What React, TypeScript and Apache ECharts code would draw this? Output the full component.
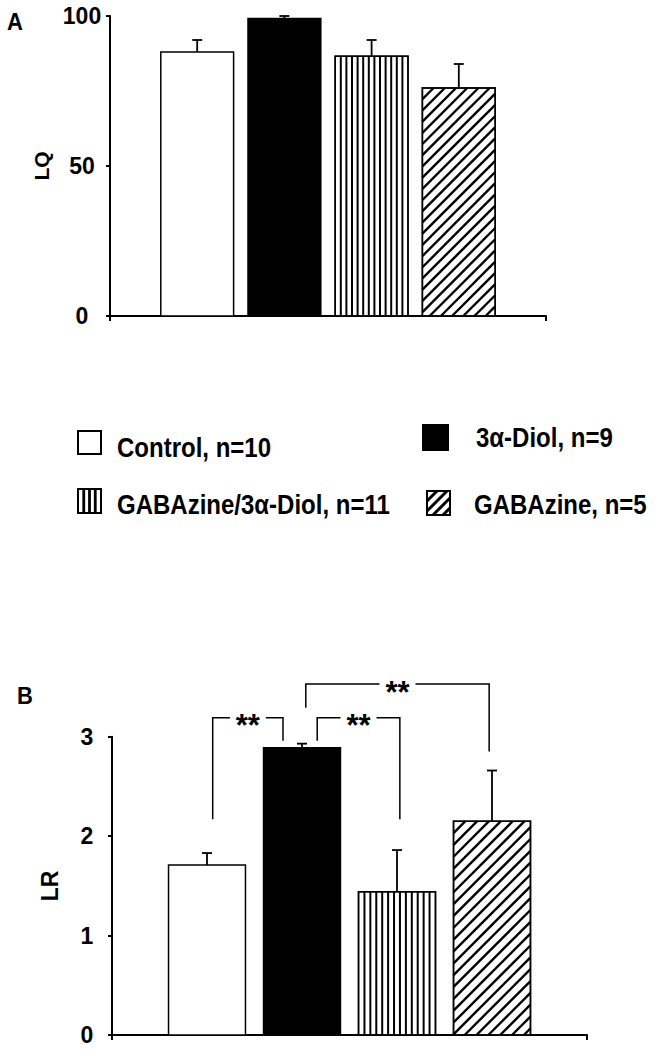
import React, { useEffect, useRef } from "react";
import * as echarts from "echarts";

// ---- data ----
const groups = ["Control, n=10", "3α-Diol, n=9", "GABAzine/3α-Diol, n=11", "GABAzine, n=5"];
const groupPositions = [1, 2, 3, 4];
const patterns = ["white", "black", "vertical", "diagonal"];
const lqMean = [88, 99.2, 86.6, 76];
const lqSem = [4, 0.8, 5.4, 8];
const lrMean = [1.71, 2.89, 1.44, 2.15];
const lrSem = [0.12, 0.04, 0.42, 0.51];
const lqAxis = { min: 0, max: 100, interval: 50 };
const lrAxis = { min: 0, max: 3, interval: 1 };
const bracketX1 = [1.06, 2.16, 2.04];
const bracketY1 = [2.17, 2.96, 3.29];
const bracketX2 = [1.8, 3.03, 3.97];
const bracketY2 = [2.96, 2.17, 2.85];
const bracketTop = [3.19, 3.19, 3.53];
const bracketLabels = ["**", "**", "**"];

const FONT = '"Liberation Sans", Arial, Helvetica, sans-serif';

function diagonalSegments(x0: number, y0: number, x1: number, y1: number, p: number, lw: number) {
  const out: any[] = [];
  for (let c = x0 + y0; c <= x1 + y1; c += p) {
    const xa = Math.max(x0, c - y1);
    const xb = Math.min(x1, c - y0);
    if (xb - xa > 0.5) {
      out.push({
        type: "line",
        shape: { x1: xa, y1: c - xa, x2: xb, y2: c - xb },
        style: { stroke: "#000", lineWidth: lw },
      });
    }
  }
  return out;
}

function verticalSegments(x0: number, y0: number, x1: number, y1: number, n: number, lw: number) {
  const out: any[] = [];
  const w = x1 - x0;
  for (let i = 1; i < n; i++) {
    const x = x0 + (w * i) / n;
    out.push({ type: "line", shape: { x1: x, y1: y0, x2: x, y2: y1 }, style: { stroke: "#000", lineWidth: lw } });
  }
  return out;
}

function makeBarRenderer(ratio: number) {
  return (params: any, api: any) => {
    const x = api.value(0);
    const v = api.value(1);
    const e = api.value(2);
    const top = api.coord([x, v]);
    const base = api.coord([x, 0]);
    const errTop = api.coord([x, v + e]);
    const w = api.size([1, 0])[0] * ratio;
    const x0 = top[0] - w / 2;
    const x1 = top[0] + w / 2;
    const y0 = top[1];
    const y1 = base[1];
    const p = patterns[params.dataIndex];
    const children: any[] = [];
    children.push({
      type: "rect",
      shape: { x: x0, y: y0, width: w, height: y1 - y0 },
      style: { fill: p === "black" ? "#000" : "#fff", stroke: "#000", lineWidth: 1.5 },
    });
    if (p === "vertical") children.push(...verticalSegments(x0, y0, x1, y1, 13, 2));
    if (p === "diagonal") children.push(...diagonalSegments(x0, y0, x1, y1, w / 6.5, 2.4));
    if (p === "vertical" || p === "diagonal") {
      children.push({
        type: "rect",
        shape: { x: x0, y: y0, width: w, height: y1 - y0 },
        style: { fill: "none", stroke: "#000", lineWidth: 1.5 },
      });
    }
    children.push({
      type: "line",
      shape: { x1: top[0], y1: y0, x2: top[0], y2: errTop[1] },
      style: { stroke: "#000", lineWidth: 1.8 },
    });
    children.push({
      type: "line",
      shape: { x1: top[0] - 5, y1: errTop[1], x2: top[0] + 5, y2: errTop[1] },
      style: { stroke: "#000", lineWidth: 1.8 },
    });
    return { type: "group", children };
  };
}

function bracketRenderer(params: any, api: any) {
  const xa = api.value(0);
  const ya = api.value(1);
  const xb = api.value(2);
  const yb = api.value(3);
  const yt = api.value(4);
  const pa = api.coord([xa, ya]);
  const pat = api.coord([xa, yt]);
  const pbt = api.coord([xb, yt]);
  const pb = api.coord([xb, yb]);
  const mid = (pat[0] + pbt[0]) / 2;
  const gap = 18;
  const st = { stroke: "#000", lineWidth: 1.5, fill: "none" };
  return {
    type: "group",
    children: [
      { type: "polyline", shape: { points: [pa, pat, [mid - gap, pat[1]]] }, style: st },
      { type: "polyline", shape: { points: [[mid + gap, pbt[1]], pbt, pb] }, style: st },
      {
        type: "text",
        x: mid,
        y: pat[1] + 8,
        style: {
          text: bracketLabels[params.dataIndex],
          fontSize: 31,
          fontWeight: "bold",
          fontFamily: FONT,
          fill: "#000",
          align: "center",
          verticalAlign: "middle",
        },
      },
    ],
  };
}

function legendGraphics() {
  const boxes = [
    { x: 78, y: 431, w: 23, h: 23, tx: 117, ty: 447 },
    { x: 423, y: 425, w: 25, h: 25, tx: 476, ty: 437 },
    { x: 78, y: 489, w: 23, h: 24, tx: 117, ty: 504 },
    { x: 427, y: 491, w: 23, h: 24, tx: 474, ty: 504 },
  ];
  const els: any[] = [];
  groups.forEach((g, i) => {
    const b = boxes[i];
    const p = patterns[i];
    els.push({
      type: "rect",
      shape: { x: b.x, y: b.y, width: b.w, height: b.h },
      style: { fill: p === "black" ? "#000" : "#fff", stroke: "#000", lineWidth: 2 },
    });
    if (p === "vertical") els.push(...verticalSegments(b.x, b.y, b.x + b.w, b.y + b.h, 4, 2.8));
    if (p === "diagonal") els.push(...diagonalSegments(b.x, b.y, b.x + b.w, b.y + b.h, 10, 3));
    if (p === "vertical" || p === "diagonal") {
      els.push({
        type: "rect",
        shape: { x: b.x, y: b.y, width: b.w, height: b.h },
        style: { fill: "none", stroke: "#000", lineWidth: 2 },
      });
    }
    els.push({
      type: "text",
      x: b.tx,
      y: b.ty,
      scaleY: 1.15,
      style: {
        text: g,
        fontSize: 24,
        fontWeight: "bold",
        fontFamily: FONT,
        fill: "#000",
        align: "left",
        verticalAlign: "middle",
      },
    });
  });
  return els;
}

function valueXAxis(gridIndex: number) {
  return {
    gridIndex,
    type: "value",
    min: 0,
    max: 5,
    interval: 5,
    axisLine: { show: true, onZero: false, lineStyle: { color: "#000", width: 2 } },
    axisTick: { show: true, length: 5, lineStyle: { color: "#000", width: 2 } },
    axisLabel: { show: false },
    splitLine: { show: false },
  };
}

function valueYAxis(gridIndex: number, cfg: any, name: string, nameSize: number, nameGap: number, margin: number) {
  return {
    gridIndex,
    type: "value",
    min: cfg.min,
    max: cfg.max,
    interval: cfg.interval,
    axisLine: { show: true, onZero: false, lineStyle: { color: "#000", width: 2 } },
    axisTick: { show: true, length: 4, lineStyle: { color: "#000", width: 2 } },
    axisLabel: {
      fontSize: 23,
      fontWeight: "bold",
      fontFamily: FONT,
      color: "#000",
      align: "center",
      margin,
    },
    splitLine: { show: false },
    name,
    nameLocation: "middle",
    nameRotate: 90,
    nameGap,
    nameTextStyle: { fontSize: nameSize, fontWeight: "bold", fontFamily: FONT, color: "#000" },
  };
}

export default function App() {
  const ref = useRef<HTMLDivElement>(null);
  useEffect(() => {
    if (!ref.current) return;
    const chart = echarts.init(ref.current, null, { renderer: "svg" });
    const option: any = {
      animation: false,
      backgroundColor: "#fff",
      grid: [
        { left: 110, top: 16, width: 436, height: 300 },
        { left: 112, top: 736.7, width: 475, height: 298.3 },
      ],
      xAxis: [valueXAxis(0), valueXAxis(1)],
      yAxis: [
        valueYAxis(0, lqAxis, "LQ", 21, 54, 28),
        valueYAxis(1, lrAxis, "LR", 23, 51, 25),
      ],
      series: [
        {
          type: "custom",
          xAxisIndex: 0,
          yAxisIndex: 0,
          renderItem: makeBarRenderer(0.835),
          data: groupPositions.map((x, i) => [x, lqMean[i], lqSem[i]]),
          encode: { x: 0, y: 1 },
          clip: false,
          silent: true,
        },
        {
          type: "custom",
          xAxisIndex: 1,
          yAxisIndex: 1,
          renderItem: makeBarRenderer(0.81),
          data: groupPositions.map((x, i) => [x, lrMean[i], lrSem[i]]),
          encode: { x: 0, y: 1 },
          clip: false,
          silent: true,
        },
        {
          type: "custom",
          xAxisIndex: 1,
          yAxisIndex: 1,
          renderItem: bracketRenderer,
          data: bracketX1.map((x, i) => [x, bracketY1[i], bracketX2[i], bracketY2[i], bracketTop[i]]),
          encode: { x: [0, 2], y: [1, 3] },
          clip: false,
          silent: true,
        },
      ],
      graphic: [
        {
          type: "text",
          x: 15,
          y: 22,
          scaleY: 1.1,
          style: { text: "A", fontSize: 22, fontWeight: "bold", fontFamily: FONT, fill: "#000", align: "center", verticalAlign: "middle" },
        },
        {
          type: "text",
          x: 25,
          y: 696,
          scaleY: 1.1,
          style: { text: "B", fontSize: 22, fontWeight: "bold", fontFamily: FONT, fill: "#000", align: "center", verticalAlign: "middle" },
        },
        ...legendGraphics(),
      ],
    };
    chart.setOption(option);
    return () => chart.dispose();
  }, []);
  return <div ref={ref} style={{ position: "absolute", left: 0, top: 0, width: 658, height: 1050 }} />;
}
